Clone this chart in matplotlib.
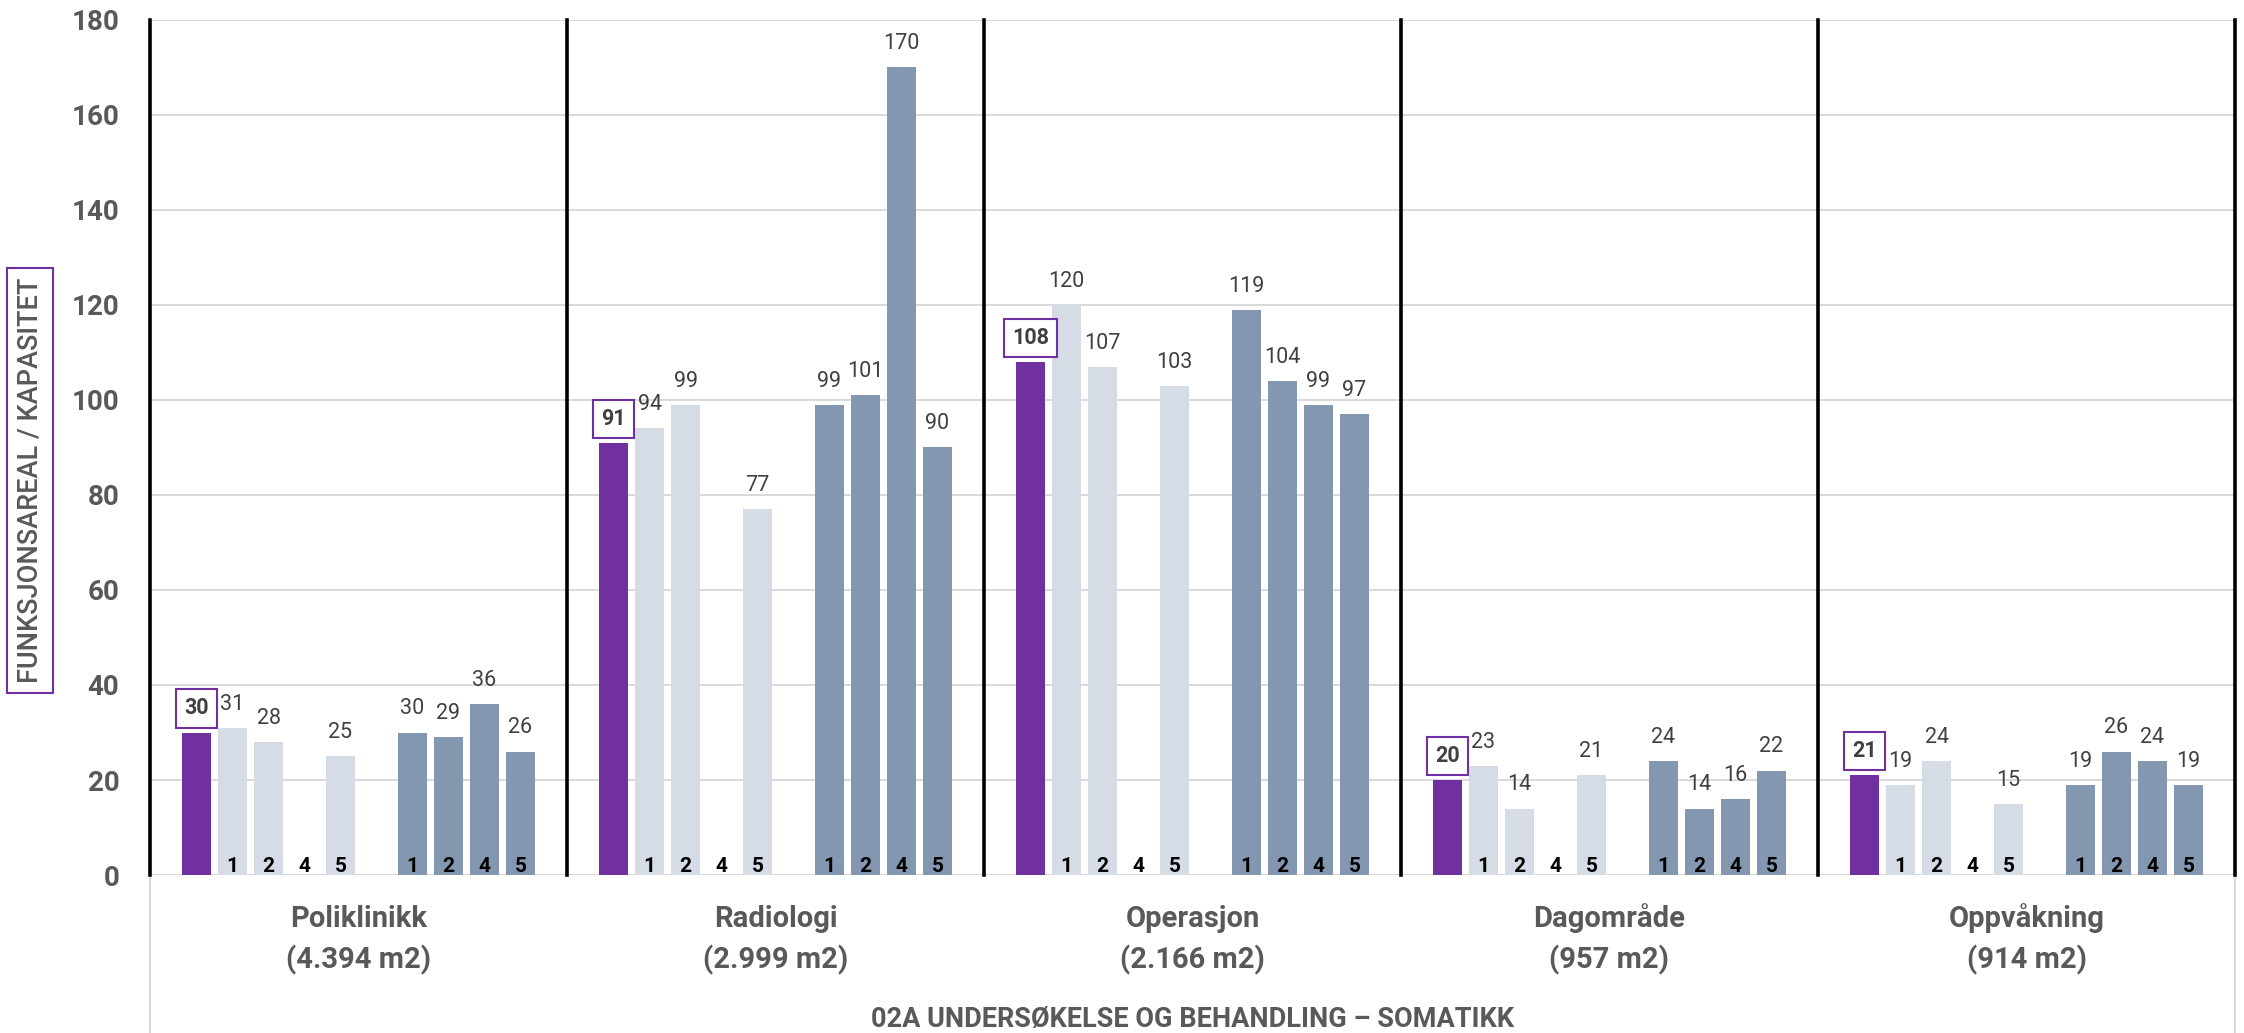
import matplotlib.pyplot as plt
import numpy as np
from matplotlib.transforms import blended_transform_factory

plt.rcParams["font.family"] = ["Roboto", "DejaVu Sans"]

groups = ["Poliklinikk", "Radiologi", "Operasjon", "Dagområde", "Oppvåkning"]
areas = ["(4.394 m2)", "(2.999 m2)", "(2.166 m2)", "(957 m2)", "(914 m2)"]

current = [30, 91, 108, 20, 21]
light_1 = [31, 94, 120, 23, 19]
light_2 = [28, 99, 107, 14, 24]
light_4 = [np.nan, np.nan, np.nan, np.nan, np.nan]
light_5 = [25, 77, 103, 21, 15]
dark_1 = [30, 99, 119, 24, 19]
dark_2 = [29, 101, 104, 14, 26]
dark_4 = [36, 170, 99, 16, 24]
dark_5 = [26, 90, 97, 22, 19]

PURPLE = "#7030A0"
LIGHT = "#D6DCE5"
DARK = "#8497B0"
GRAY_TXT = "#595959"
LABEL_TXT = "#404040"

# (values, slot, colour, label at bar base)
series = [
    (current, 0, PURPLE, ""),
    (light_1, 1, LIGHT, "1"),
    (light_2, 2, LIGHT, "2"),
    (light_4, 3, LIGHT, "4"),
    (light_5, 4, LIGHT, "5"),
    (dark_1, 6, DARK, "1"),
    (dark_2, 7, DARK, "2"),
    (dark_4, 8, DARK, "4"),
    (dark_5, 9, DARK, "5"),
]

fig = plt.figure(figsize=(22.44, 10.33), dpi=100)
ax = fig.add_axes([0.06684, 0.15295, 0.92915, 0.8277])

x = np.arange(len(groups)) + 0.5
slot = 0.0863
width = 0.0695

for vals, k, color, base in series:
    xs = x + (k - 4.5) * slot
    ax.bar(xs, vals, width, color=color, zorder=2)
    for xi, v in zip(xs, vals):
        if base:
            ax.annotate(base, (xi, 0), xytext=(0, 2.2), textcoords="offset points",
                        ha="center", va="baseline", fontsize=15, fontweight="bold",
                        color="black", zorder=4)
        if np.isnan(v):
            continue
        if k == 0:
            ax.annotate(f"{v:.0f}", (xi, v), xytext=(0, 13), textcoords="offset points",
                        ha="center", va="baseline", fontsize=15.5, fontweight="bold",
                        color=LABEL_TXT, zorder=4,
                        bbox=dict(boxstyle="square,pad=0.38", fc="white", ec=PURPLE, lw=1.5))
        else:
            ax.annotate(f"{v:.0f}", (xi, v), xytext=(0, 13), textcoords="offset points",
                        ha="center", va="baseline", fontsize=15.5, color=LABEL_TXT, zorder=4)

ax.set_xlim(0, len(groups))
ax.set_ylim(0, 180)
ax.set_yticks(range(0, 181, 20))
ax.set_xticks([])
ax.yaxis.grid(True, color="#D9D9D9", lw=1.4, zorder=0)
ax.set_axisbelow(True)
for s in ax.spines.values():
    s.set_visible(False)
ax.tick_params(axis="y", length=0, pad=22, labelsize=20, labelcolor=GRAY_TXT)
for lbl in ax.get_yticklabels():
    lbl.set_fontweight("bold")

# black separators between areas
for b in range(len(groups) + 1):
    ax.axvline(b, color="black", lw=2.6, zorder=3, clip_on=False)

# category axis below the plot
trans = blended_transform_factory(ax.transData, ax.transAxes)
for b in [0, len(groups)]:
    ax.plot([b, b], [0, -0.19], transform=trans, color="#D9D9D9", lw=1.5, clip_on=False)
for xi, name, area in zip(x, groups, areas):
    ax.text(xi, -0.0608, name, transform=trans, ha="center", va="baseline",
            fontsize=21, fontweight="bold", color=GRAY_TXT)
    ax.text(xi, -0.1088, area, transform=trans, ha="center", va="baseline",
            fontsize=21, fontweight="bold", color=GRAY_TXT)
ax.text(len(groups) / 2, -0.1778, "02A UNDERSØKELSE OG BEHANDLING – SOMATIKK",
        transform=trans, ha="center", va="baseline",
        fontsize=19.5, fontweight="bold", color=GRAY_TXT)

fig.text(30 / 2244, 0.535, "FUNKSJONSAREAL / KAPASITET", rotation=90,
         ha="center", va="center", fontsize=19.5, fontweight="medium", color=GRAY_TXT,
         bbox=dict(boxstyle="square,pad=0.35", fc="white", ec=PURPLE, lw=1.5))

fig.savefig("out.png", dpi=100)
